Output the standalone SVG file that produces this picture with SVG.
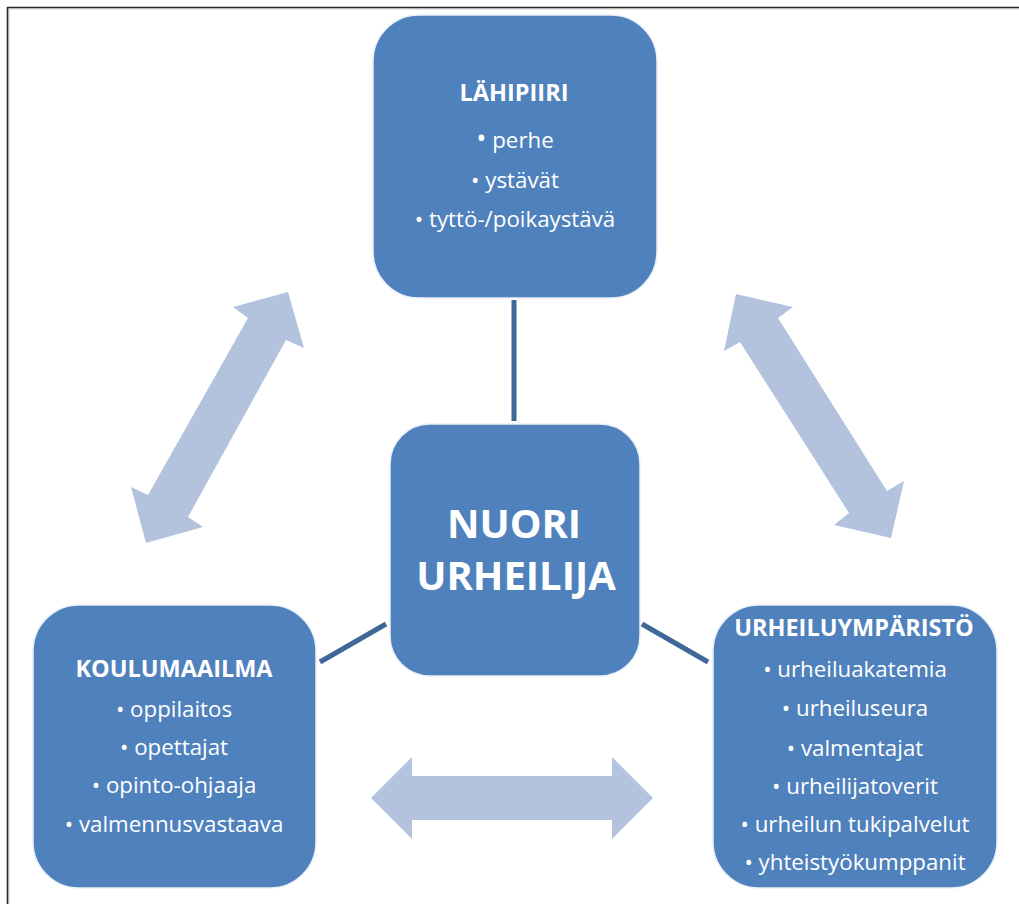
<svg xmlns="http://www.w3.org/2000/svg" width="1019" height="904" viewBox="0 0 1019 904">
  <style>
    .box { fill: #4F81BD; stroke: #EAF0F8; stroke-width: 1.5; }
    .link { stroke: #3F6797; stroke-width: 5; fill: none; }
    .flow { fill: #B3C3DE; }
    text { font-family: "Open Sans", "Liberation Sans", sans-serif; fill: #FFFFFF; text-anchor: middle; }
    .title { font-size: 23.5px; font-weight: bold; }
    .item { font-size: 22.3px; }
    .big-bullet { font-size: 27px; }
    .main { font-size: 40px; font-weight: bold; }
  </style>

  <rect x="0" y="0" width="1019" height="904" fill="#FFFFFF"/>

  <!-- page frame -->
  <g id="frame">
    <line x1="7.5" y1="9" x2="1019" y2="9" stroke="#D0D0D0" stroke-width="1"/>
    <line x1="9" y1="9" x2="9" y2="904" stroke="#D0D0D0" stroke-width="1"/>
    <line x1="7" y1="7.5" x2="1019" y2="7.5" stroke="#2A2A2A" stroke-width="1.6"/>
    <line x1="7.5" y1="7" x2="7.5" y2="904" stroke="#2A2A2A" stroke-width="1.6"/>
  </g>

  <!-- wide two-way arrows between the outer groups -->
  <g id="flows">
    <polygon class="flow" points="288,292 304,348 286,340 188,517 203,527 146,543 131,487 148,495 248,318 233,307"/>
    <polygon class="flow" points="736,294 793,307 778,318 887,491 904,481 891,538 834,525 849,513 740,342 724,351"/>
    <polygon class="flow" points="371,798 412,757 412,776 612,776 612,757 653,798 612,839 612,820 412,820 412,839"/>
  </g>

  <!-- connectors from the centre node -->
  <g id="connectors">
    <line class="link" x1="514" y1="300" x2="514" y2="421"/>
    <line class="link" x1="320" y1="662" x2="386" y2="624"/>
    <line class="link" x1="642" y1="624" x2="708" y2="662"/>
  </g>

  <g id="node-lahipiiri">
    <rect class="box" x="373" y="15" width="284" height="283" rx="46" ry="46"/>
    <text class="title" x="514" y="101">LÄHIPIIRI</text>
    <text class="item" x="515" y="148"><tspan class="big-bullet">•</tspan> perhe</text>
    <text class="item" x="515" y="188">• ystävät</text>
    <text class="item" x="515" y="227">• tyttö-/poikaystävä</text>
  </g>

  <g id="node-nuori-urheilija">
    <rect class="box" x="390" y="424" width="250" height="252" rx="40" ry="40"/>
    <text class="main" x="514" y="538">NUORI</text>
    <text class="main" x="516" y="590">URHEILIJA</text>
  </g>

  <g id="node-koulumaailma">
    <rect class="box" x="33" y="605" width="283" height="283" rx="46" ry="46"/>
    <text class="title" x="174" y="677">KOULUMAAILMA</text>
    <text class="item" x="174" y="717">• oppilaitos</text>
    <text class="item" x="174" y="755">• opettajat</text>
    <text class="item" x="174" y="793">• opinto-ohjaaja</text>
    <text class="item" x="174" y="832">• valmennusvastaava</text>
  </g>

  <g id="node-urheiluymparisto">
    <rect class="box" x="713" y="605" width="284" height="283" rx="46" ry="46"/>
    <text class="title" x="854" y="636">URHEILUYMPÄRISTÖ</text>
    <text class="item" x="855" y="677">• urheiluakatemia</text>
    <text class="item" x="855" y="716">• urheiluseura</text>
    <text class="item" x="855" y="756">• valmentajat</text>
    <text class="item" x="855" y="794">• urheilijatoverit</text>
    <text class="item" x="855" y="832">• urheilun tukipalvelut</text>
    <text class="item" x="855" y="870">• yhteistyökumppanit</text>
  </g>
</svg>
